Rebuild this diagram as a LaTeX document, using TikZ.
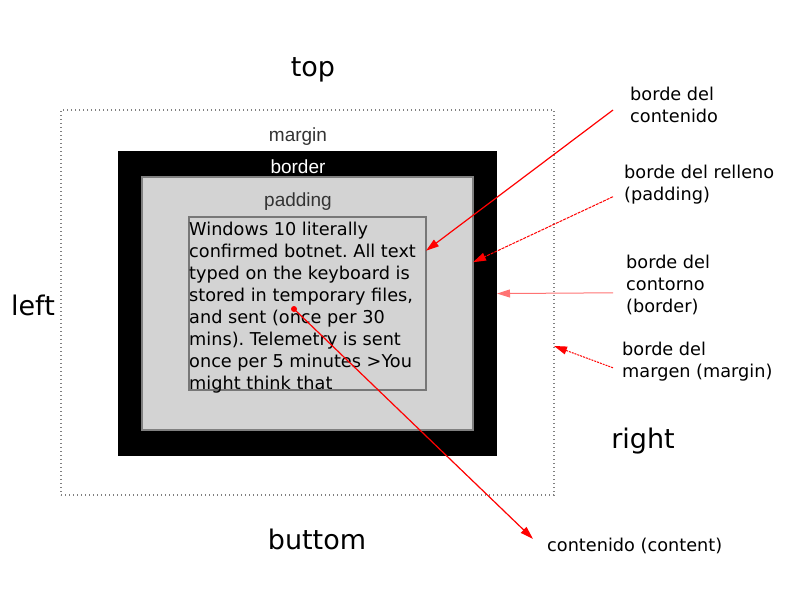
\documentclass[tikz,border=0pt]{standalone}
\usepackage{fontspec}
\setmainfont{DejaVu Sans}
\newfontfamily\arialfont{Liberation Sans}
\usetikzlibrary{arrows.meta}
\definecolor{relleno}{HTML}{D3D3D3}
\definecolor{gris}{HTML}{777777}
\frenchspacing
\begin{document}
\begin{tikzpicture}[x=1pt,y=-1pt,
    caja/.style={rectangle,inner sep=0pt,outer sep=0pt},
    nota/.style={anchor=west,align=left,inner ysep=0pt,font=\fontsize{17.7}{22}\selectfont},
    lado/.style={font=\fontsize{27}{32}\selectfont},
    capa/.style={font=\arialfont\fontsize{19}{23}\selectfont,text=black!80},
    flecha/.style={red,line width=1.2pt,-{Triangle[length=13pt,width=8pt]}}]
  \useasboundingbox (0,0) rectangle (800,600);
  \node[caja,draw=gray,line width=1.2pt,dash pattern=on 1.4pt off 2.6pt,
    minimum width=493pt,minimum height=385pt] (marg) at (307.5,302.5) {};
  \node[caja,fill=black,minimum width=379pt,minimum height=305pt] (bord) at (307.5,303.5) {};
  \node[caja,fill=relleno,draw=gray,line width=1.2pt,
    minimum width=331pt,minimum height=253pt] (pad) at (307.5,303.5) {};
  \node[caja,draw=gris,line width=1.2pt,minimum width=237pt,minimum height=173pt] (cont) at (307.5,303.5) {};
  \node[capa] (tmarg) at (298,137) {margin};
  \node[capa,text=white] (tbord) at (298,167) {border};
  \node[capa] (tpad) at (298,202) {padding};
  \node[anchor=north west,inner sep=0pt,align=left,font=\fontsize{17.7}{22}\selectfont] (texto)
    at (189,222) {Windows 10 literally\\confirmed botnet. All text\\typed on the keyboard is\\
    stored in temporary files,\\and sent (once per 30\\mins). Telemetry is sent\\
    once per 5 minutes >You\\might think that};
  \node[circle,fill=red,inner sep=0pt,minimum size=6pt] (punto) at (294,309) {};
  \node[lado] (top) at (313,70) {top};
  \node[lado] (left) at (33,305) {left};
  \node[lado] (right) at (643,441) {right};
  \node[lado] (buttom) at (317,539) {buttom};
  \node[nota,inner xsep=17pt] (lcont) at (613,105) {borde del\\contenido};
  \node[nota,inner xsep=11pt] (lrell) at (613,184.7) {borde del relleno\\(padding)};
  \node[nota,inner xsep=13pt] (lbord) at (613,284.8) {borde del\\contorno\\(border)};
  \node[nota,inner xsep=9pt] (lmarg) at (613,361.8) {borde del\\margen (margin)};
  \node[nota,inner xsep=14pt] (lcontent) at (533,546) {contenido (content)};
  \draw[flecha] ([yshift=-5pt]lcont.west) -- (cont.24.7);
  \draw[flecha,line width=1pt,dash pattern=on 3pt off 1pt] ([yshift=-12pt]lrell.west) -- (pad.14.4);
  \draw[flecha,red!55,line width=1pt] ([yshift=-8pt]lbord.west) -- (bord.3.2);
  \draw[flecha,line width=1pt,dash pattern=on 2pt off 1pt] ([yshift=-6pt]lmarg.west) -- (marg.-10);
  \draw[flecha] (punto.center) -- (lcontent.176.5);
\end{tikzpicture}
\end{document}
